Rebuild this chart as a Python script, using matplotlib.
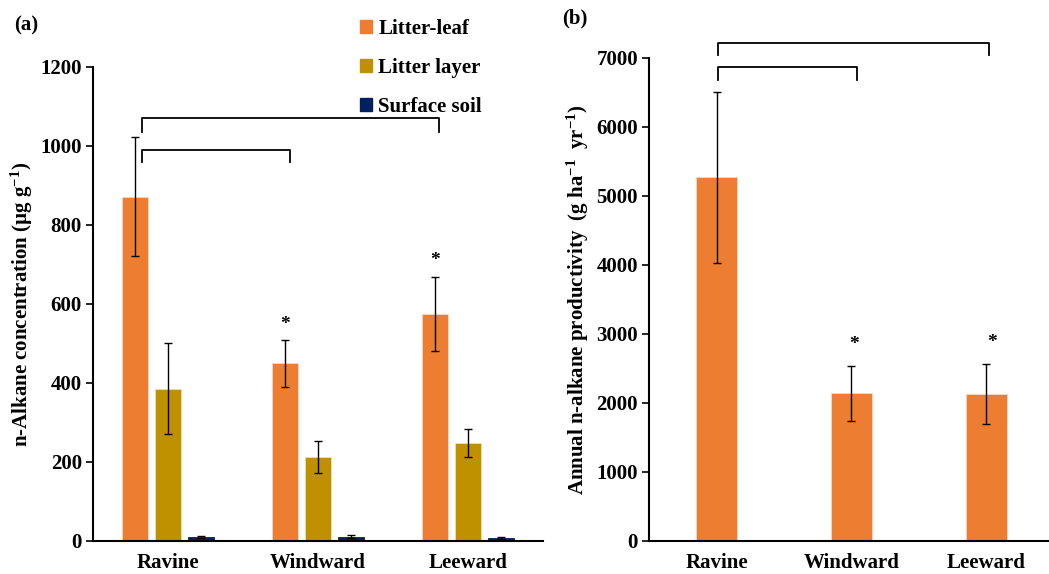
import matplotlib
matplotlib.use("Agg")
from matplotlib import pyplot as plt
from matplotlib.patches import Patch
import numpy as np

plt.rcParams['font.family'] = ['Liberation Serif', 'DejaVu Serif']
plt.rcParams['font.weight'] = 'bold'
plt.rcParams['axes.labelweight'] = 'bold'
plt.rcParams['mathtext.fontset'] = 'custom'
plt.rcParams['mathtext.rm'] = 'Liberation Serif:bold'
plt.rcParams['mathtext.default'] = 'rm'

# data
sites = ["Ravine", "Windward", "Leeward"]
leaf = [872, 450, 575]
leaf_err = [150, 60, 93]
layer = [385, 212, 248]
layer_err = [115, 40, 35]
soil = [10, 11, 8]
soil_err = [3, 3, 3]

prod = [5270, 2140, 2130]
prod_err = [1240, 395, 440]

c_leaf = "#ED7D31"
c_layer = "#BF9000"
c_soil = "#002060"

fig = plt.figure(figsize=(10.49, 5.74), dpi=100)
ax1 = fig.add_axes([0.0887, 0.0575, 0.429, 0.8258])
ax2 = fig.add_axes([0.6187, 0.0575, 0.386, 0.8415])

x = np.arange(len(sites))
w = 0.175
off = 0.22
ekw = dict(elinewidth=1, capthick=1, ecolor="black")
ax1.bar(x - off, leaf, w, yerr=leaf_err, color=c_leaf, edgecolor="#f7d9c4", lw=0.6, capsize=3, error_kw=ekw)
ax1.bar(x, layer, w, yerr=layer_err, color=c_layer, edgecolor="#efe0b0", lw=0.6, capsize=3, error_kw=ekw)
ax1.bar(x + off, soil, w, yerr=soil_err, color=c_soil, edgecolor="#002060", lw=0.6, capsize=3, error_kw=ekw)

ax1.set_xlim(-0.5, 2.5)
ax1.set_ylim(0, 1200)
ax1.set_yticks(range(0, 1201, 200))
ax1.set_xticks(x)
ax1.set_xticklabels(sites)
ax1.set_ylabel("n-Alkane concentration (µg g$^{-1}$)", fontsize=15, labelpad=4)

# significance brackets
def bracket(ax, x0, x1, y, h):
    ax.plot([x0, x0, x1, x1], [y - h, y, y, y - h], color="black", lw=1.3,
            clip_on=False, solid_joinstyle="round")

bracket(ax1, -0.173, 1.807, 1071, 36)
bracket(ax1, -0.173, 0.813, 990, 31)
ax1.text(1 - off, 548, "*", ha="center", va="center", fontsize=14)
ax1.text(2 - off, 710, "*", ha="center", va="center", fontsize=14)

handles = [Patch(color=c_leaf), Patch(color=c_layer), Patch(color=c_soil)]
fig.legend(handles, ["Litter-leaf", "Litter layer", "Surface soil"],
           loc="upper left", bbox_to_anchor=(0.325, 1.0), frameon=False,
           fontsize=15, labelspacing=0.92, handlelength=0.6, handleheight=0.6,
           handletextpad=0.3)

w2 = 0.31
ax2.bar(x, prod, w2, yerr=prod_err, color=c_leaf, edgecolor="#f7d9c4", lw=0.6, capsize=3, error_kw=ekw)
ax2.set_xlim(-0.5, 2.5)
ax2.set_ylim(0, 7000)
ax2.set_yticks(range(0, 7001, 1000))
ax2.set_xticks(x)
ax2.set_xticklabels(sites)
ax2.set_ylabel("Annual n-alkane productivity  (g ha$^{-1}$  yr$^{-1}$)", fontsize=15, labelpad=4)
bracket(ax2, 0.01, 2.02, 7217, 174)
bracket(ax2, 0.01, 1.04, 6874, 193)
ax2.text(1.02, 2850, "*", ha="center", va="center", fontsize=14)
ax2.text(2.04, 2870, "*", ha="center", va="center", fontsize=14)

for ax in (ax1, ax2):
    for s in ("top", "right"):
        ax.spines[s].set_visible(False)
    for s in ("left", "bottom"):
        ax.spines[s].set_linewidth(1.5)
    ax.tick_params(axis="x", length=0, labelsize=15, pad=9)
    ax.tick_params(axis="y", length=5, width=1.2, labelsize=15, pad=3)

fig.text(0.013, 0.955, "(a)", fontsize=15, va="center")
fig.text(0.536, 0.968, "(b)", fontsize=15, va="center")

plt.savefig("out.png", dpi=100)
